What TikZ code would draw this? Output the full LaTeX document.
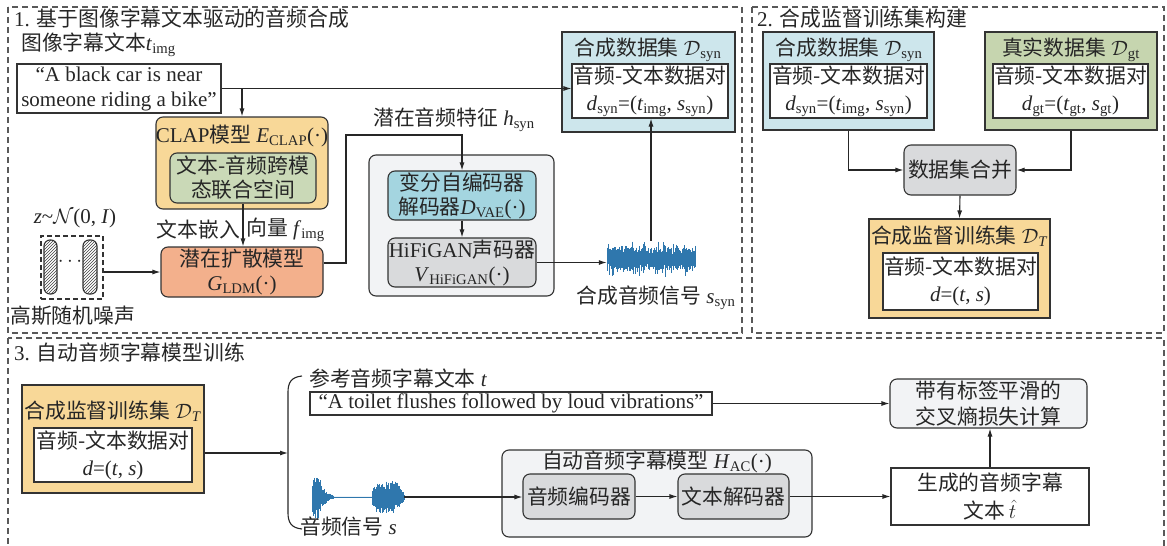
\documentclass[tikz,border=0pt]{standalone}
\usepackage{fontspec}
\setmainfont{Liberation Serif}[Scale=1.05]
\newfontfamily\cjk{Noto Sans CJK SC}[Scale=1.04]
\usetikzlibrary{arrows.meta,patterns,calc}
\newcommand{\zh}[1]{{\cjk #1}}
\newcommand{\sv}[2]{\textit{#1}\textsubscript{#2}}
\definecolor{cOrange}{HTML}{F8D898}
\definecolor{cGreen}{HTML}{CAD9B7}
\definecolor{cSalmon}{HTML}{F3B08C}
\definecolor{cBlue}{HTML}{A4D5E0}
\definecolor{cGray}{HTML}{D9DADC}
\definecolor{cLight}{HTML}{F2F3F5}
\definecolor{cDsyn}{HTML}{CDE6EC}
\definecolor{cDgt}{HTML}{C6D5AF}
\definecolor{waveblue}{HTML}{2F77AD}
\begin{document}
\begin{tikzpicture}[x=1pt,y=-1pt,
  every node/.style={font=\fontsize{20}{24}\selectfont, text=black!85, inner sep=0pt},
  bx/.style={draw=black!80, line width=1.1pt, align=center},
  rbx/.style={bx, rounded corners=7pt},
  arr/.style={draw=black!85, line width=1.1pt, -{Latex[length=8pt,width=5pt]}},
  lin/.style={draw=black!85, line width=1.1pt},
  frame/.style={draw=black!65, line width=1.1pt, dash pattern=on 6pt off 4pt},
  wave/.style={draw=waveblue, line width=0.5pt},
  pill/.style={draw=black!80, line width=1.1pt, rounded corners=6pt, pattern=north east lines, pattern color=black!75}
]
\useasboundingbox (0,0) rectangle (1167,546);
% frames
\draw[frame] (8,7) rectangle (742,333);
\draw[frame] (752,7) rectangle (1164,333);
\draw[frame] (8,338) rectangle (1164,549);

% ---------- Section 1 ----------
\node[anchor=west] (title1) at (14,19) {1. \zh{基于图像字幕文本驱动的音频合成}};
\node[anchor=west] (timglbl) at (21,45) {\zh{图像字幕文本}\sv{t}{img}};
\node[bx, fill=white, minimum width=204pt, minimum height=49pt, font=\fontsize{20}{25}\selectfont] (txtimg) at (119,88.5) {“A black car is near\\someone riding a bike”};

\node[rbx, fill=cOrange, minimum width=172pt, minimum height=92pt] (clap) at (242,163) {};
\node (claptitle) at (242,136) {CLAP\zh{模型} \sv{E}{CLAP}(·)};
\node[rbx, fill=cGreen, minimum width=146pt, minimum height=50pt] (clapin) at (243,178) {\zh{文本-音频跨模}\\\zh{态联合空间}};

\node[rbx, fill=cSalmon, minimum width=162pt, minimum height=50pt] (ldm) at (242,272) {\zh{潜在扩散模型}\\\sv{G}{LDM}(·)};
\node[anchor=east] (fimgA) at (240,230) {\zh{文本嵌入}};
\node[anchor=west] (fimgB) at (246,230) {\zh{向量} \sv{f}{img}};

% noise
\node[draw=black!80, line width=1.1pt, dash pattern=on 5pt off 3pt, minimum width=62pt, minimum height=63pt] (noise) at (72,267.5) {};
\node[pill, minimum width=13pt, minimum height=54pt] (pillA) at (50.5,267) {};
\node[pill, minimum width=14pt, minimum height=54pt] (pillB) at (90,267) {};
\node (dots) at (70,262) {$\cdots$};
\node (zlbl) at (75,218) {\textit{z}\textasciitilde$\mathcal{N}$(0, \textit{I})};
\node[anchor=west] (noiselbl) at (10,316) {\zh{高斯随机噪声}};

% decoder group
\node[rbx, fill=cLight, minimum width=185pt, minimum height=141pt] (grp) at (461.5,225.5) {};
\node[rbx, fill=cBlue, minimum width=148pt, minimum height=49pt] (vae) at (462,195.5) {\zh{变分自编码器}\\\zh{解码器}\sv{D}{VAE}(·)};
\node[rbx, fill=cGray, minimum width=148pt, minimum height=49pt] (hifi) at (462,262.5) {HiFiGAN\zh{声码器}\\\sv{V}{HiFiGAN}(·)};
\node[anchor=west] (hlbl) at (373,120) {\zh{潜在音频特征} \sv{h}{syn}};
\coordinate (hk) at (346,135);

% synthetic waveform
\node[minimum width=88pt, minimum height=36pt] (wave1) at (651,259) {};
\pgfmathsetseed{12}
\foreach \i in {0,...,176}{
  \pgfmathsetmacro\xx{607+\i*0.5}
  \pgfmathsetmacro\a{4+7*rnd+9*rnd^8}
  \pgfmathsetmacro\b{4+7*rnd+9*rnd^8}
  \draw[wave] (\xx,259-\a) -- (\xx,259+\b);
}
\node (ssynlbl) at (656,298) {\zh{合成音频信号} \sv{s}{syn}};

% synthetic dataset (section 1)
\node[bx, fill=cDsyn, minimum width=173pt, minimum height=100pt] (dsyn1) at (648.5,82) {};
\node (dsyn1t) at (648,50) {\zh{合成数据集} $\mathcal{D}$\textsubscript{syn}};
\node[bx, fill=white, minimum width=156pt, minimum height=54pt, font=\fontsize{20}{27}\selectfont] (dsyn1in) at (650,91) {\zh{音频-文本数据对}\\\sv{d}{syn}=(\sv{t}{img}, \sv{s}{syn})};

% connectors section 1
\draw[arr] (txtimg.east) -- (txtimg.east -| dsyn1in.west);
\draw[arr] (clap.north |- txtimg.east) -- (clap.north);
\draw[arr] (clapin.south) -- (clapin.south |- ldm.north);
\draw[arr] (noise.east |- 0,272) -- (ldm.west |- 0,272);
\draw[arr] ([yshift=9pt]ldm.east) -| (hk) -| (vae.north);
\draw[arr] (vae.south) -- (hifi.north);
\draw[arr] (hifi.east) -- (hifi.east -| wave1.west);
\draw[arr] (wave1.north) -- (wave1.north |- dsyn1in.south);

% ---------- Section 2 ----------
\node[anchor=west] (title2) at (757,19) {2. \zh{合成监督训练集构建}};
\node[bx, fill=cDsyn, minimum width=171pt, minimum height=98pt] (dsyn2) at (848.5,81) {};
\node (dsyn2t) at (849,50) {\zh{合成数据集} $\mathcal{D}$\textsubscript{syn}};
\node[bx, fill=white, minimum width=157pt, minimum height=54pt, font=\fontsize{20}{27}\selectfont] (dsyn2in) at (848.5,91) {\zh{音频-文本数据对}\\\sv{d}{syn}=(\sv{t}{img}, \sv{s}{syn})};
\node[bx, fill=cDgt, minimum width=172pt, minimum height=98pt] (dgt) at (1071,81) {};
\node (dgtt) at (1071,50) {\zh{真实数据集} $\mathcal{D}$\textsubscript{gt}};
\node[bx, fill=white, minimum width=155pt, minimum height=54pt, font=\fontsize{20}{27}\selectfont] (dgtin) at (1070.5,91) {\zh{音频-文本数据对}\\\sv{d}{gt}=(\sv{t}{gt}, \sv{s}{gt})};
\node[rbx, fill=cGray, minimum width=112pt, minimum height=50pt] (merge) at (960,170) {\zh{数据集合并}};
\node[bx, fill=cOrange, minimum width=181pt, minimum height=99pt] (dT2) at (959.5,268.5) {};
\node (dT2t) at (959.5,236) {\zh{合成监督训练集} $\mathcal{D}$\textsubscript{\textit{T}}};
\node[bx, fill=white, minimum width=155pt, minimum height=57pt, font=\fontsize{20}{27}\selectfont] (dT2in) at (960.5,281.5) {\zh{音频-文本数据对}\\\textit{d}=(\textit{t}, \textit{s})};
\draw[arr] (dsyn2.south) |- (merge.west);
\draw[arr] (dgt.south) |- (merge.east);
\draw[arr] (merge.south) -- (dT2.north);

% ---------- Section 3 ----------
\node[anchor=west] (title3) at (14,353) {3. \zh{自动音频字幕模型训练}};
\node[bx, fill=cOrange, minimum width=182pt, minimum height=108pt] (dT3) at (113,439) {};
\node (dT3t) at (113,411) {\zh{合成监督训练集} $\mathcal{D}$\textsubscript{\textit{T}}};
\node[bx, fill=white, minimum width=158pt, minimum height=54pt, font=\fontsize{20}{27}\selectfont] (dT3in) at (113,455) {\zh{音频-文本数据对}\\\textit{d}=(\textit{t}, \textit{s})};

\coordinate (bracemid) at (288,453);
\draw[lin] (302,376) .. controls (291,377) and (288,383) .. (288,392) -- (288,513) .. controls (288,522) and (291,528) .. (302,529);
\draw[arr] (dT3.east |- bracemid) -- (bracemid);

\node[anchor=west] (reflbl) at (309,379) {\zh{参考音频字幕文本} \textit{t}};
\node[bx, fill=white, minimum width=402pt, minimum height=23pt] (reftxt) at (511,403.5) {“A toilet flushes followed by loud vibrations”};
\node[rbx, fill=cLight, minimum width=197pt, minimum height=49pt, font=\fontsize{20}{26}\selectfont] (loss) at (988.5,403.5) {\zh{带有标签平滑的}\\\zh{交叉熵损失计算}};
\node[bx, fill=white, minimum width=198pt, minimum height=57pt, font=\fontsize{20}{28}\selectfont] (gen) at (990,496.5) {\zh{生成的音频字幕}\\\zh{文本}\,$\hat{t}$};

% audio waveform s
\node[minimum width=92pt, minimum height=44pt] (wave2) at (358,497) {};
\pgfmathsetseed{5}
\foreach \i in {0,...,184}{
  \pgfmathsetmacro\xx{312+\i*0.5}
  \pgfmathsetmacro\env{(\xx<334)*min(1,(\xx-311)/1.5)*(23*exp(-max(0,\xx-318)/6)) + (\xx>=334)*(\xx<372)*0.4 + (\xx>=372)*min(1,(\xx-371)/3)*(16-12*max(0,(\xx-396)/8))}
  \pgfmathsetmacro\a{\env*(0.4+0.6*rnd)}
  \pgfmathsetmacro\b{\env*(0.4+0.6*rnd)}
  \draw[wave, line width=0.4pt] (\xx,497-\a-0.1) -- (\xx,497+\b+0.1);
}
\node[anchor=west] (slbl) at (300,527) {\zh{音频信号} \textit{s}};

\node[rbx, fill=cLight, minimum width=310pt, minimum height=87pt] (ac) at (657,493.5) {};
\node (act) at (657,462) {\zh{自动音频字幕模型} \sv{H}{AC}(·)};
\node[rbx, fill=cGray, minimum width=112pt, minimum height=45pt] (enc) at (579,496.5) {\zh{音频编码器}};
\node[rbx, fill=cGray, minimum width=111pt, minimum height=45pt] (dec) at (733.5,496.5) {\zh{文本解码器}};

\draw[arr] (reftxt.east) -- (reftxt.east -| loss.west);
\draw[arr] (wave2.east) -- (wave2.east -| enc.west);
\draw[arr] (enc.east) -- (dec.west);
\draw[arr] (dec.east) -- (dec.east -| gen.west);
\draw[arr] (gen.north) -- (gen.north |- loss.south);
\end{tikzpicture}
\end{document}
